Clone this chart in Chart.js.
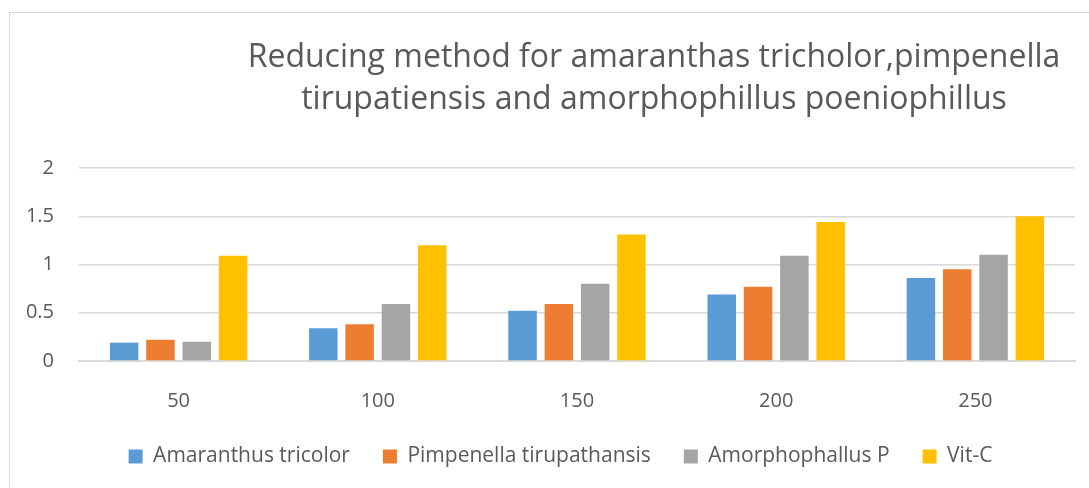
<!DOCTYPE html>
<html>
<head>
<meta charset="utf-8">
<script src="https://cdn.jsdelivr.net/npm/chart.js@4.4.0/dist/chart.umd.min.js"></script>
<style>
  html, body { margin: 0; padding: 0; background: #fff; overflow: hidden; }
  #wrap { position: relative; width: 1089px; height: 488px; }
  #frame { position: absolute; left: 9px; top: 12px; width: 1200px; height: 600px; border: 1.5px solid #D9D9D9; box-sizing: border-box; }
  canvas { position: absolute; left: 0; top: 0; }
</style>
</head>
<body>
<div id="wrap">
  <div id="frame"></div>
  <canvas id="c" width="1089" height="488"></canvas>
</div>
<script>
const categories = ['50', '100', '150', '200', '250'];
const amaranthus = [0.19, 0.34, 0.52, 0.69, 0.86];
const pimpenella = [0.22, 0.38, 0.59, 0.77, 0.95];
const amorphophallus = [0.20, 0.59, 0.80, 1.09, 1.10];
const vitC = [1.09, 1.20, 1.31, 1.44, 1.50];
const seriesNames = ['Amaranthus tricolor', 'Pimpenella tirupathansis', 'Amorphophallus P', 'Vit-C'];
const titleLines = ['Reducing method for amaranthas tricholor,pimpenella', 'tirupatiensis and amorphophillus poeniophillus'];

const FONT = "'Open Sans', sans-serif";
const TEXT = '#595959';

const titlePlugin = {
  id: 'offsetTitle',
  afterLayout(chart) {
    if (chart.legend) { chart.legend.left = 46; }
  },
  afterDraw(chart) {
    const ctx = chart.ctx;
    ctx.save();
    ctx.font = "32px " + FONT;
    ctx.fillStyle = TEXT;
    ctx.textAlign = 'center';
    ctx.textBaseline = 'alphabetic';
    ctx.fillText(titleLines[0], 654, 67);
    ctx.fillText(titleLines[1], 654, 109);
    ctx.restore();
  }
};

new Chart(document.getElementById('c'), {
  type: 'bar',
  data: {
    labels: categories,
    datasets: [
      { label: seriesNames[0], data: amaranthus, backgroundColor: '#5B9BD5' },
      { label: seriesNames[1], data: pimpenella, backgroundColor: '#ED7D31' },
      { label: seriesNames[2], data: amorphophallus, backgroundColor: '#A5A5A5' },
      { label: seriesNames[3], data: vitC, backgroundColor: '#FFC000' }
    ]
  },
  options: {
    responsive: false,
    animation: false,
    datasets: { bar: { categoryPercentage: 0.729, barPercentage: 0.785 } },
    layout: { padding: { left: 20, right: 14, top: 168, bottom: 11 } },
    plugins: {
      title: { display: false },
      tooltip: { enabled: false },
      legend: {
        position: 'bottom',
        align: 'center',
        labels: {
          boxWidth: 14, boxHeight: 14, padding: 33,
          color: TEXT,
          font: { family: FONT, size: 21 }
        }
      }
    },
    scales: {
      x: {
        grid: { display: false, drawTicks: false },
        border: { display: true, color: '#D9D9D9', width: 2 },
        ticks: { color: TEXT, font: { family: FONT, size: 20 }, padding: 28, maxRotation: 0 },
        afterFit(axis) { axis.height = 52; }
      },
      y: {
        min: 0, max: 2,
        grid: { color: '#D9D9D9', lineWidth: 1.5, drawTicks: false },
        border: { display: false },
        ticks: {
          stepSize: 0.5, color: TEXT, font: { family: FONT, size: 20 }, padding: 25,
          callback: (v) => String(v)
        },
        afterFit(axis) { axis.width = 59; }
      }
    }
  },
  plugins: [titlePlugin]
});
</script>
</body>
</html>
